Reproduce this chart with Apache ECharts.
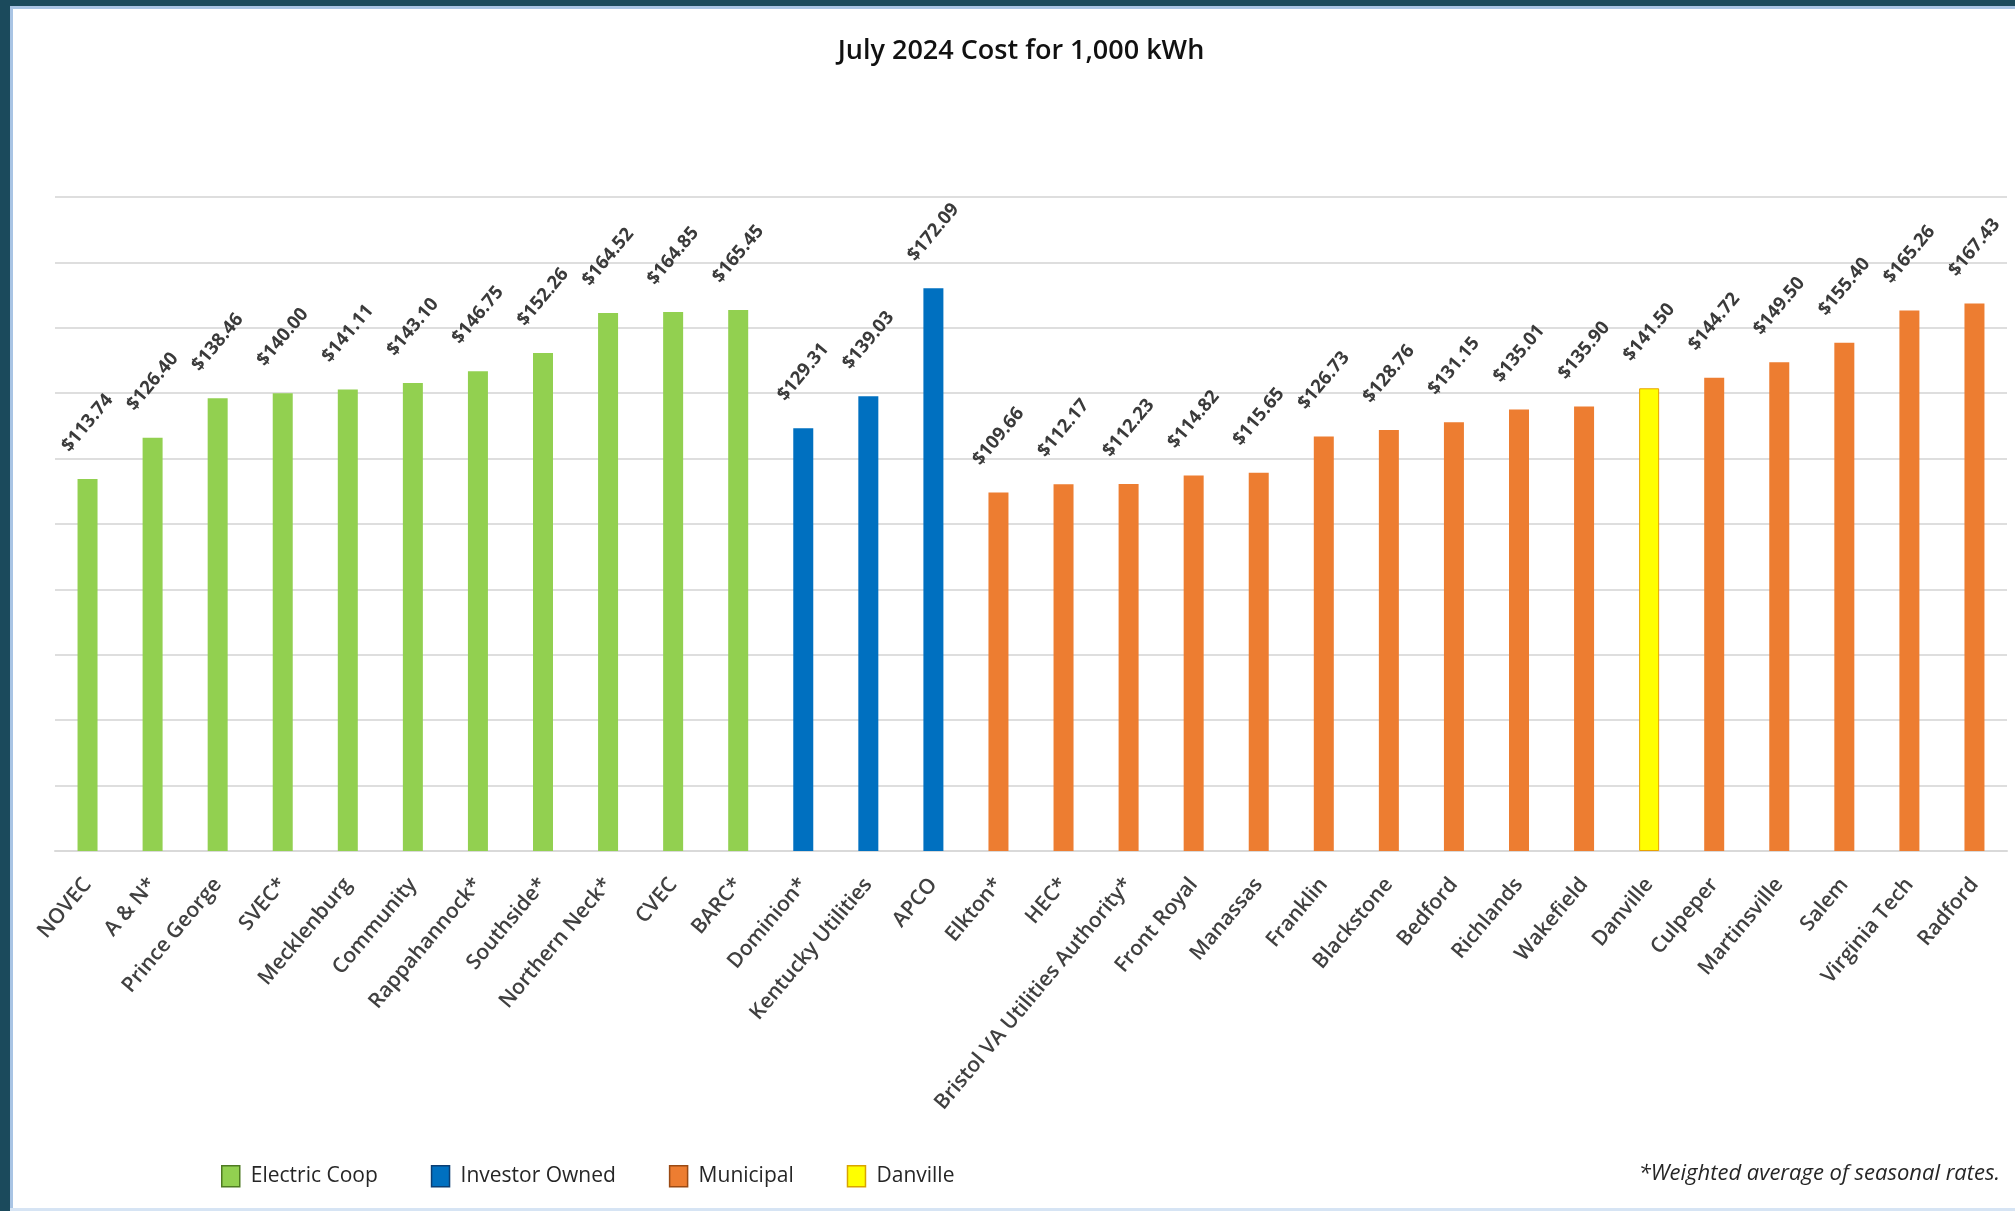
<!DOCTYPE html>
<html>
<head>
<meta charset="utf-8">
<script src="https://cdn.jsdelivr.net/npm/echarts@6/dist/echarts.min.js"></script>
<style>
html,body{margin:0;padding:0;background:#ffffff;}
#chart{position:absolute;left:0;top:0;width:2015px;height:1211px;}
</style>
</head>
<body>
<div id="chart"></div>
<script>
// ---- data ----
const categories = ["NOVEC","A & N*","Prince George","SVEC*","Mecklenburg","Community","Rappahannock*","Southside*","Northern Neck*","CVEC","BARC*",
  "Dominion*","Kentucky Utilities","APCO",
  "Elkton*","HEC*","Bristol VA Utilities Authority*","Front Royal","Manassas","Franklin","Blackstone","Bedford","Richlands","Wakefield","Danville","Culpeper","Martinsville","Salem","Virginia Tech","Radford"];
const costs = [113.74,126.40,138.46,140.00,141.11,143.10,146.75,152.26,164.52,164.85,165.45,
  129.31,139.03,172.09,
  109.66,112.17,112.23,114.82,115.65,126.73,128.76,131.15,135.01,135.90,141.50,144.72,149.50,155.40,165.26,167.43];
const groups = ["Electric Coop","Electric Coop","Electric Coop","Electric Coop","Electric Coop","Electric Coop","Electric Coop","Electric Coop","Electric Coop","Electric Coop","Electric Coop",
  "Investor Owned","Investor Owned","Investor Owned",
  "Municipal","Municipal","Municipal","Municipal","Municipal","Municipal","Municipal","Municipal","Municipal","Municipal","Danville","Municipal","Municipal","Municipal","Municipal","Municipal"];
const groupNames = ["Electric Coop","Investor Owned","Municipal","Danville"];
const groupColors = ["#92D050","#0070C0","#ED7D31","#FFFF00"];
const groupBorders = ["#4E7A22","#0B3E73","#9A4A14","#D9A400"];
const yTicks = {min:0, max:200, interval:20};

const chart = echarts.init(document.getElementById('chart'), null, {renderer:'canvas'});

const series = groupNames.map((g, gi) => ({
  name: g,
  type: 'bar',
  barWidth: 20,
  barGap: '-100%',
  data: costs.map((v, i) => groups[i] === g ? v : '-'),
  itemStyle: g === 'Danville'
    ? {color: groupColors[gi], borderColor: '#E8A200', borderWidth: 1}
    : {color: groupColors[gi]},
  label: {
    show: true,
    position: 'top',
    distance: 56,
    rotate: 50,
    align: 'center',
    verticalAlign: 'middle',
    fontFamily: 'Open Sans',
    fontWeight: 700,
    fontSize: 18.5,
    color: '#3a3a3a',
    formatter: p => '$' + Number(p.value).toFixed(2)
  }
}));

chart.setOption({
  backgroundColor: '#ffffff',
  animation: false,
  title: {
    text: 'July 2024 Cost for 1,000 kWh',
    left: 1016,
    textAlign: 'center',
    top: 33,
    textStyle: {fontFamily: 'Open Sans', fontWeight: 600, fontSize: 27, color: '#111111'}
  },
  legend: {
    left: 216,
    top: 1160,
    itemWidth: 18,
    itemHeight: 21,
    itemGap: 53,
    icon: 'rect',
    data: groupNames.map((g, gi) => ({name: g, itemStyle: {color: groupColors[gi], borderColor: groupBorders[gi], borderWidth: 1.5}})),
    textStyle: {fontFamily: 'Open Sans', fontSize: 21, color: '#262626', padding: [0,0,0,6]}
  },
  grid: {left: 55, right: 8, top: 197, bottom: 360, containLabel: false},
  xAxis: {
    type: 'category',
    data: categories,
    axisTick: {show: false},
    axisLine: {lineStyle: {color: '#D9D9D9', width: 2}},
    axisLabel: {
      rotate: 50,
      interval: 0,
      margin: 30,
      fontFamily: 'Open Sans',
      fontWeight: 600,
      fontSize: 21,
      color: '#404040'
    }
  },
  yAxis: {
    type: 'value',
    min: yTicks.min, max: yTicks.max, interval: yTicks.interval,
    axisLabel: {show: false},
    axisLine: {show: false},
    axisTick: {show: false},
    splitLine: {lineStyle: {color: '#DEDEDE', width: 2}}
  },
  graphic: [
    {type: 'rect', shape: {x: 0, y: 0, width: 2015, height: 6}, style: {fill: '#1B4A5C'}, z: 100},
    {type: 'rect', shape: {x: 10, y: 6, width: 2005, height: 3}, style: {fill: '#A9C4E4'}, z: 100},
    {type: 'rect', shape: {x: 0, y: 0, width: 10, height: 1211}, style: {fill: '#1B4A5C'}, z: 100},
    {type: 'rect', shape: {x: 10, y: 6, width: 3, height: 1205}, style: {fill: '#A9C4E4'}, z: 100},
    {type: 'rect', shape: {x: 10, y: 1208, width: 2005, height: 3}, style: {fill: '#D6E4F4'}, z: 100},
    {type: 'text', right: 15, top: 1163, style: {text: '*Weighted average of seasonal rates.', font: 'italic 22px "Open Sans"', fill: '#262626'}, z: 100}
  ],
  series: series
});
</script>
</body>
</html>
